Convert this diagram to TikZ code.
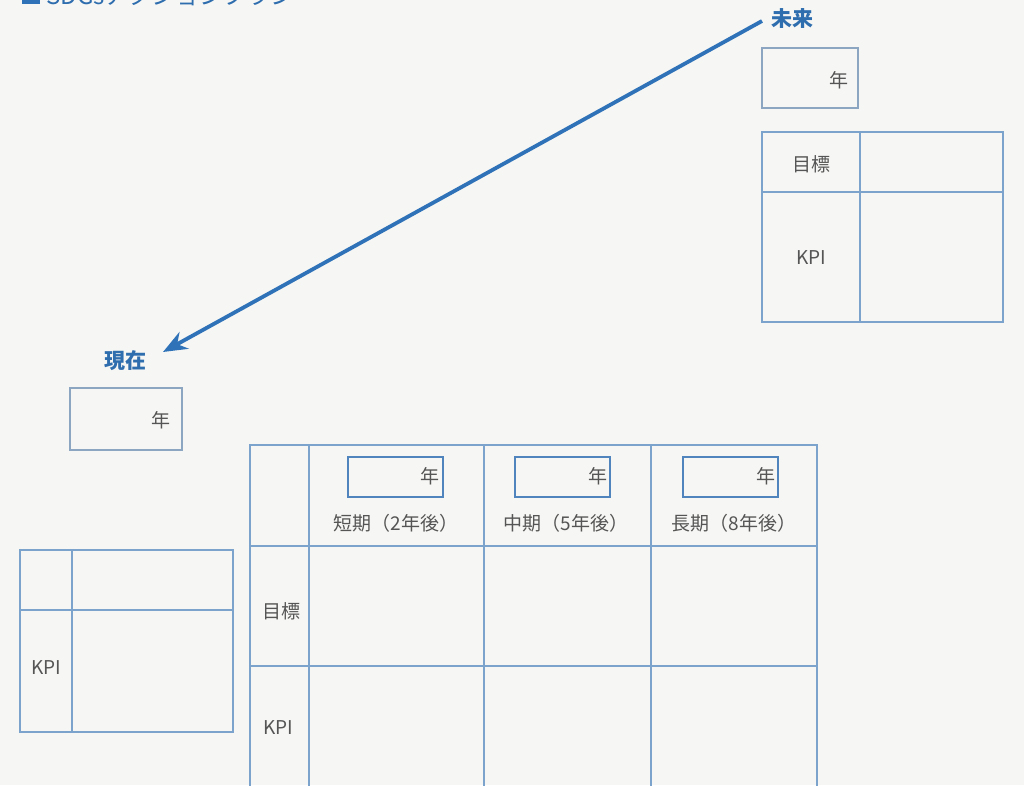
\documentclass[tikz,border=0pt]{standalone}
\usepackage{fontspec}
\setmainfont{Noto Sans CJK JP}
\usetikzlibrary{arrows.meta}
\definecolor{bgc}{HTML}{F6F6F4}
\definecolor{gridc}{HTML}{7BA3CC}
\definecolor{yearc}{HTML}{4F84BC}
\definecolor{boxc}{HTML}{8CA6C2}
\definecolor{arrowc}{HTML}{2F72B8}
\definecolor{txtc}{HTML}{555555}
\definecolor{bluetxt}{HTML}{2E6DAE}
\tikzset{
  grid/.style={draw=gridc, line width=1.4pt},
  yearbox/.style={draw=yearc, line width=1.4pt},
  plainbox/.style={draw=boxc, line width=1.4pt},
  lbl/.style={text=txtc, font=\fontsize{19}{19}\selectfont, inner sep=0pt},
  bluelbl/.style={text=bluetxt, font=\fontsize{21}{21}\selectfont\bfseries, inner sep=0pt},
}
\begin{document}
\begin{tikzpicture}[x=1pt,y=-1pt]
\fill[bgc] (0,0) rectangle (1024,785);
\useasboundingbox (0,0) rectangle (1024,785);
% clipped title
\begin{scope}
\clip (0,0) rectangle (1024,785);
\fill[arrowc] (22,-14) rectangle (40,4);
\node[anchor=base west, text=bluetxt, font=\fontsize{24}{24}\selectfont, inner sep=0pt] (title) at (46,4) {SDGsアクションプラン};
\end{scope}

% future / now labels
\node[bluelbl] (mirai) at (792,19) {未来};
\node[bluelbl] (genzai) at (125,361) {現在};
\coordinate (astart) at (762,21);
\coordinate (aend) at (163,352);
\draw[arrowc, line width=3.8pt, -{Stealth[length=24pt,width=19pt]}] (astart) -- (aend);

% future year box
\draw[plainbox] (762,48) rectangle (858,108);
\node[lbl] (fy) at (839,80) {年};
% future table
\draw[grid] (762,132) rectangle (1003,322);
\draw[grid] (860,132) -- (860,322);
\draw[grid] (762,192) -- (1003,192);
\node[lbl] (fgoal) at (811,164) {目標};
\node[lbl] (fkpi) at (811,258) {KPI};

% now year box
\draw[plainbox] (70,388) rectangle (182,450);
\node[lbl] (ny) at (161,420) {年};
% now table
\draw[grid] (20,550) rectangle (233,732);
\draw[grid] (72,550) -- (72,732);
\draw[grid] (20,610) -- (233,610);
\node[lbl] (nkpi) at (46,668) {KPI};

% main table
\draw[grid] (250,445) rectangle (817,790);
\foreach \x in {309,484,651} \draw[grid] (\x,445) -- (\x,790);
\foreach \y in {546,666} \draw[grid] (250,\y) -- (817,\y);
\draw[yearbox] (348,457) rectangle (443,497);
\draw[yearbox] (515,457) rectangle (610,497);
\draw[yearbox] (683,457) rectangle (778,497);
\node[lbl] (y1) at (430,476) {年};
\node[lbl] (y2) at (598,476) {年};
\node[lbl] (y3) at (766,476) {年};
\node[lbl] (h1) at (396,523) {短期（2年後）};
\node[lbl] (h2) at (566,523) {中期（5年後）};
\node[lbl] (h3) at (734,523) {長期（8年後）};
\node[lbl] (mgoal) at (281,611) {目標};
\node[lbl] (mkpi) at (278,728) {KPI};
\end{tikzpicture}
\end{document}
